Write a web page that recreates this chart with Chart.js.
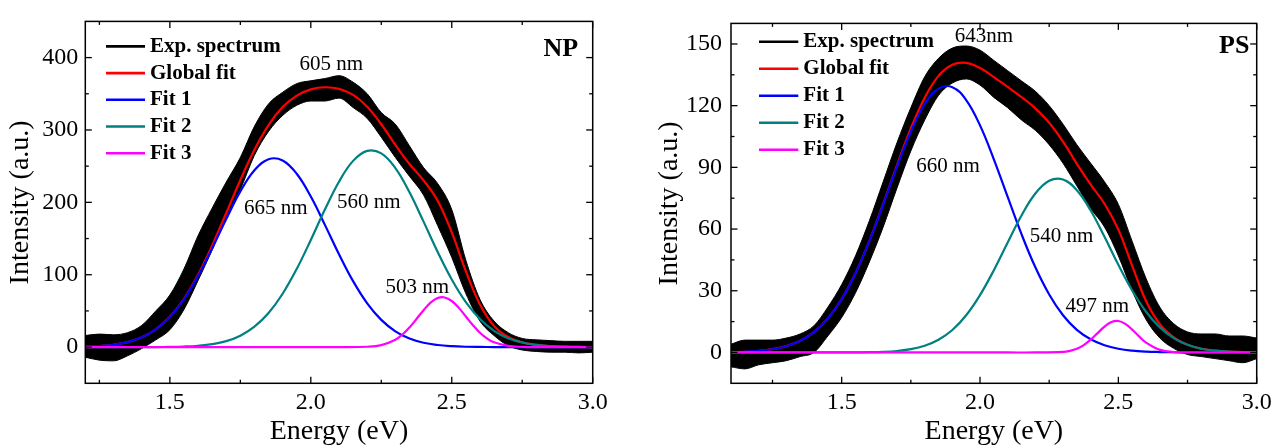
<!DOCTYPE html>
<html><head><meta charset="utf-8">
<script src="https://cdn.jsdelivr.net/npm/chart.js@4.4.0/dist/chart.umd.min.js"></script>
<style>
html,body{margin:0;padding:0;background:#fff;width:1274px;height:445px;overflow:hidden;position:relative}
#c1{position:absolute;left:0;top:0}
#c2{position:absolute;left:640px;top:0}
</style></head><body>
<canvas id="c1" width="630" height="445"></canvas>
<canvas id="c2" width="660" height="445"></canvas>
<script>
// ---------- shared labels ----------
const legendLabels = ['Exp. spectrum', 'Global fit', 'Fit 1', 'Fit 2', 'Fit 3'];
const seriesColors = ['#000000', '#ff0000', '#0000ff', '#008080', '#ff00ff'];
const xTicks = [1.5, 2.0, 2.5, 3.0];
const xTickLabels = ['1.5', '2.0', '2.5', '3.0'];
const xMinorTicks = [1.25, 1.75, 2.25, 2.75];

// ---------- NP panel ----------
const npEnergy = [1.20,1.25,1.30,1.35,1.40,1.45,1.50,1.55,1.60,1.65,1.70,1.75,1.80,1.85,1.90,1.95,2.00,2.05,2.10,2.15,2.20,2.25,2.30,2.35,2.40,2.45,2.50,2.55,2.60,2.65,2.70,2.75,2.80,2.85,2.90,2.95,3.00];
const npExpUpper = [16,18,17,20,30,50,72,108,154,192,228,262,305,336,352,364,368,371,375,366,350,324,308,278,248,226,190,120,66,36,20,12,10,9,8,8,8];
const npExpLower = [-14,-18,-19,-12,-2,10,24,52,92,134,180,218,265,298,320,334,340,340,344,331,316,290,262,236,210,168,124,74,36,16,2,-4,-6,-7,-7,-8,-7];
const npGlobal = [0.6,1.5,3.3,6.9,13.5,24.5,41.8,66.8,100.0,140.4,185.3,230.9,272.6,306.7,331.6,347.5,356.1,359.0,356.8,348.4,332.2,307.9,279.3,253.0,230.4,202.2,158.4,104.9,58.8,29.2,13.9,6.6,3.0,1.3,0.6,0.2,0.1];
const npFit1 = [0.6,1.5,3.3,6.9,13.5,24.5,41.5,66.0,98.1,136.3,177.0,215.1,244.4,259.6,257.9,239.5,208.0,168.9,128.3,91.1,60.5,37.6,21.8,11.8,6.0,2.9,1.3,0.5,0.2,0.1,0,0,0,0,0,0,0];
const npFit2 = [0,0,0,0,0,0.1,0.3,0.8,1.9,4.1,8.3,15.8,28.2,47.1,73.7,108.0,148.1,190.1,228.5,257.3,271.2,267.6,247.3,214.0,173.4,131.5,93.4,62.1,38.7,22.5,12.3,6.3,3.0,1.3,0.6,0.2,0.1];
const npFit3Energy = [1.20,1.60,2.00,2.10,2.20,2.25,2.30,2.325,2.35,2.375,2.40,2.425,2.45,2.475,2.50,2.525,2.55,2.575,2.60,2.625,2.65,2.70,2.75,2.80,2.90,3.00];
const npFit3 = [0,0,0,0,0.5,2.7,10.2,17.4,27.2,38.9,51.0,61.4,67.8,68.6,63.7,54.2,42.3,30.3,19.9,12.0,6.6,1.6,0.3,0,0,0];
const npYTicks = [0, 100, 200, 300, 400];
const npYTickLabels = ['0', '100', '200', '300', '400'];
const npYMinor = [50, 150, 250, 350];
const npNotes = [
  {text: '605 nm', e: 2.073, v: 391},
  {text: '665 nm', e: 1.876, v: 191},
  {text: '560 nm', e: 2.206, v: 200},
  {text: '503 nm', e: 2.378, v: 83},
  {text: 'NP', e: 2.887, v: 411, bold: true}
];

// ---------- PS panel ----------
const psEnergy = [1.10,1.15,1.20,1.25,1.30,1.35,1.40,1.45,1.50,1.55,1.60,1.65,1.70,1.75,1.80,1.85,1.90,1.95,2.00,2.05,2.10,2.15,2.20,2.25,2.30,2.35,2.40,2.45,2.50,2.55,2.60,2.65,2.70,2.75,2.80,2.85,2.90,2.95,3.00];
const psExpUpper = [4,6,6,6,7,9,13,22,33,47,64,83,102,119,134,143,148,149,147,142,137,132,127,120,111,101,92,83,72,54,36,22,14,10,9,9,8,8,7];
const psExpLower = [-7,-8,-6,-5,-4,-2,0,8,17,29,44,61,80,98,113,125,131,133,130,124,119,113,108,101,92,81,70,61,47,30,16,7,2,-1,-2,-3,-4,-5,-3];
const psGlobal = [0.2,0.3,0.8,1.6,3.1,5.7,9.9,16.5,25.9,38.5,54.2,72.2,91.0,108.9,123.9,134.5,139.9,140.8,138.3,133.9,129.1,124.1,118.7,111.7,102.5,91.7,81.6,72.3,59.7,42.1,25.0,13.7,7.3,3.7,1.8,0.9,0.4,0.2,0.1];
const psFit1 = [0.15,0.34,0.75,1.55,3.05,5.65,9.9,16.5,25.9,38.5,54.1,71.9,90.3,107.3,120.7,128.3,129.0,122.7,110.4,93.9,75.6,57.5,41.4,28.2,18.1,11.0,6.4,3.5,1.8,0.87,0.4,0.2,0.1,0,0,0,0,0,0];
const psFit2 = [0,0,0,0,0,0,0,0,0.02,0.04,0.12,0.3,0.72,1.58,3.24,6.17,10.9,18.1,27.9,40.0,53.5,66.6,77.3,83.5,84.1,78.9,69.0,56.2,42.6,30.1,19.8,12.2,7.0,3.7,1.8,0.85,0.36,0.15,0.06];
const psFit3Energy = [1.10,1.60,2.10,2.20,2.30,2.325,2.35,2.375,2.40,2.425,2.45,2.475,2.50,2.525,2.55,2.575,2.60,2.65,2.70,2.80,2.90,3.00];
const psFit3 = [0,0,0,0,0.3,0.8,1.8,3.6,6.2,9.4,12.6,14.8,15.3,13.9,11.1,7.8,4.8,1.25,0.2,0,0,0];
const psYTicks = [0, 30, 60, 90, 120, 150];
const psYTickLabels = ['0', '30', '60', '90', '120', '150'];
const psYMinor = [15, 45, 75, 105, 135];
const psNotes = [
  {text: '643nm', e: 2.014, v: 153.4},
  {text: '660 nm', e: 1.884, v: 90.6},
  {text: '540 nm', e: 2.295, v: 56.5},
  {text: '497 nm', e: 2.424, v: 22.3},
  {text: 'PS', e: 2.919, v: 148.7, bold: true}
];

// ---------- helpers ----------
const FONT = '"Liberation Serif", "Times New Roman", serif';
function pts(xs, ys) { return xs.map((x, i) => ({x: x, y: ys[i]})); }

function buildDatasets(s) {
  const line = (label, xs, ys, color, order) => ({
    label: label, data: pts(xs, ys), borderColor: color, backgroundColor: color,
    borderWidth: 2.2, pointRadius: 0, fill: false, tension: 0.4, order: order
  });
  return [
    {label: legendLabels[0], data: pts(s.energy, s.expUpper), borderColor: '#000', backgroundColor: '#000',
     borderWidth: 1, pointRadius: 0, fill: '+1', cubicInterpolationMode: 'monotone', order: 5},
    {label: '', data: pts(s.energy, s.expLower), borderColor: '#000', backgroundColor: '#000',
     borderWidth: 1, pointRadius: 0, fill: false, cubicInterpolationMode: 'monotone', order: 5},
    line(legendLabels[1], s.energy, s.global, seriesColors[1], 4),
    line(legendLabels[2], s.energy, s.fit1, seriesColors[2], 3),
    line(legendLabels[3], s.energy, s.fit2, seriesColors[3], 2),
    line(legendLabels[4], s.fit3Energy, s.fit3, seriesColors[4], 1)
  ];
}

const decorPlugin = {
  id: 'decor',
  afterDatasetsDraw(chart, args, o) {
    const ctx = chart.ctx, a = chart.chartArea, X = chart.scales.x, Y = chart.scales.y;
    const seg = (x1, y1, x2, y2) => { ctx.beginPath(); ctx.moveTo(x1, y1); ctx.lineTo(x2, y2); ctx.stroke(); };
    ctx.save();
    ctx.strokeStyle = '#000'; ctx.lineWidth = 1.3;
    X.ticks.forEach(t => { const p = X.getPixelForValue(t.value); seg(p, a.bottom, p, a.bottom - 6.5); seg(p, a.top, p, a.top + 6.5); });
    o.xMinor.forEach(v => { const p = X.getPixelForValue(v); seg(p, a.bottom, p, a.bottom - 3.5); seg(p, a.top, p, a.top + 3.5); });
    Y.ticks.forEach(t => { const p = Y.getPixelForValue(t.value); seg(a.left, p, a.left + 6.5, p); seg(a.right, p, a.right - 6.5, p); });
    o.yMinor.forEach(v => { const p = Y.getPixelForValue(v); seg(a.left, p, a.left + 3.5, p); seg(a.right, p, a.right - 3.5, p); });
    ctx.lineWidth = 1.5;
    ctx.strokeRect(a.left, a.top, a.right - a.left, a.bottom - a.top);
    // legend
    const lg = o.legend;
    ctx.textAlign = 'left'; ctx.textBaseline = 'middle';
    ctx.font = 'bold 21px ' + FONT;
    legendLabels.forEach((lab, i) => {
      const yy = a.top + lg.dy0 + i * lg.dy;
      const x0 = a.left + lg.dx;
      ctx.strokeStyle = seriesColors[i]; ctx.lineWidth = 2.6;
      seg(x0, yy, x0 + lg.len, yy);
      ctx.fillStyle = '#000';
      ctx.fillText(lab, x0 + lg.len + lg.gap, yy);
    });
    // annotations
    ctx.textAlign = 'center';
    o.notes.forEach(n => {
      ctx.font = (n.bold ? 'bold 26px ' : '21px ') + FONT;
      ctx.fillStyle = '#000';
      ctx.fillText(n.text, X.getPixelForValue(n.e), Y.getPixelForValue(n.v));
    });
    ctx.restore();
  }
};

function makeChart(id, s, c) {
  return new Chart(document.getElementById(id), {
    type: 'line',
    data: {datasets: buildDatasets(s)},
    plugins: [decorPlugin],
    options: {
      responsive: false, animation: false, devicePixelRatio: 1,
      layout: {padding: {left: 0, top: c.padTop, right: c.padRight, bottom: 0}},
      plugins: {
        legend: {display: false}, tooltip: {enabled: false},
        decor: {xMinor: xMinorTicks, yMinor: s.yMinor, notes: s.notes, legend: c.legend}
      },
      scales: {
        x: {
          type: 'linear', min: c.xMin, max: 3.0,
          afterFit: sc => { sc.height = c.xAxisHeight; },
          afterBuildTicks: sc => { sc.ticks = xTicks.map(v => ({value: v})); },
          grid: {display: false, drawTicks: false}, border: {display: false},
          ticks: {autoSkip: false, maxRotation: 0, padding: 5, color: '#000',
                  font: {family: FONT, size: 24}, callback: (v, i) => xTickLabels[i]},
          title: {display: true, text: 'Energy (eV)', color: '#000',
                  font: {family: FONT, size: 28}, padding: {top: 0, bottom: -3}}
        },
        y: {
          type: 'linear', min: s.yMin, max: s.yMax,
          afterFit: sc => { sc.width = c.yAxisWidth; },
          afterBuildTicks: sc => { sc.ticks = s.yTicks.map(v => ({value: v})); },
          grid: {display: false, drawTicks: false}, border: {display: false},
          ticks: {autoSkip: false, padding: c.yTickPad, color: '#000',
                  font: {family: FONT, size: 24}, callback: (v, i) => s.yTickLabels[i]},
          title: {display: true, text: 'Intensity (a.u.)', color: '#000',
                  font: {family: FONT, size: 28}, padding: {top: c.yTitlePad, bottom: 0}}
        }
      }
    }
  });
}

makeChart('c1', {
  energy: npEnergy, expUpper: npExpUpper, expLower: npExpLower, global: npGlobal,
  fit1: npFit1, fit2: npFit2, fit3Energy: npFit3Energy, fit3: npFit3,
  yMin: -50, yMax: 450, yTicks: npYTicks, yTickLabels: npYTickLabels, yMinor: npYMinor, notes: npNotes
}, {xMin: 1.2, padTop: 16.7, padRight: 37.3, xAxisHeight: 61.7, yAxisWidth: 85.3, yTickPad: 7, yTitlePad: 4,
    legend: {dx: 20.7, len: 39, gap: 5, dy0: 25, dy: 26.7}});

makeChart('c2', {
  energy: psEnergy, expUpper: psExpUpper, expLower: psExpLower, global: psGlobal,
  fit1: psFit1, fit2: psFit2, fit3Energy: psFit3Energy, fit3: psFit3,
  yMin: -15, yMax: 160, yTicks: psYTicks, yTickLabels: psYTickLabels, yMinor: psYMinor, notes: psNotes
}, {xMin: 1.1, padTop: 16.7, padRight: 43.3, xAxisHeight: 61.7, yAxisWidth: 91, yTickPad: 9, yTitlePad: 13,
    legend: {dx: 28, len: 39.3, gap: 5, dy0: 18.3, dy: 27}});
</script>
</body></html>
